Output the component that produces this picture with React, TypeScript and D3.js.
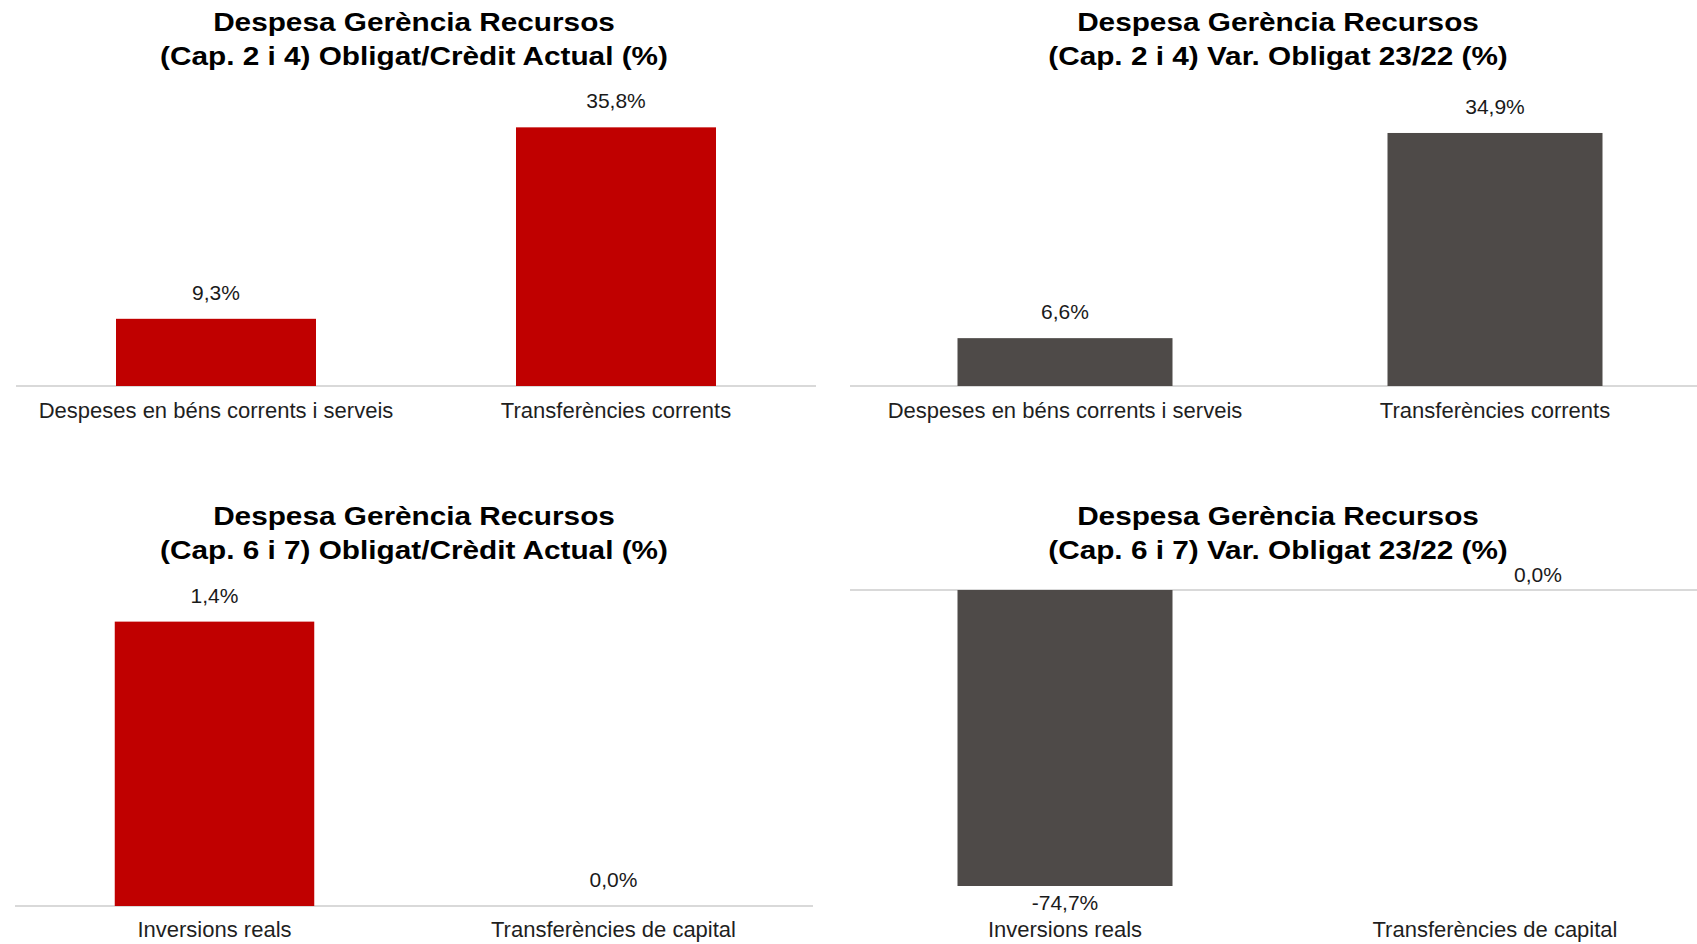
import React from 'react';
import * as d3 from 'd3';

const categoriesCap24 = ['Despeses en béns corrents i serveis', 'Transferències corrents'];
const categoriesCap67 = ['Inversions reals', 'Transferències de capital'];

const obligatCreditCap24 = [9.3, 35.8];
const varObligatCap24 = [6.6, 34.9];
const obligatCreditCap67 = [1.4, 0.0];
const varObligatCap67 = [-74.7, 0.0];

const titleLine1 = 'Despesa Gerència Recursos';
const titlesLine2 = [
  '(Cap. 2 i 4) Obligat/Crèdit Actual (%)',
  '(Cap. 2 i 4) Var. Obligat 23/22 (%)',
  '(Cap. 6 i 7) Obligat/Crèdit Actual (%)',
  '(Cap. 6 i 7) Var. Obligat 23/22 (%)',
];

const RED = '#C00000';
const GREY = '#4E4A48';
const FONT = '"Liberation Sans", Arial, Helvetica, sans-serif';

const W = 1697;
const H = 944;

interface PanelProps {
  title2: string;
  categories: string[];
  values: number[];
  color: string;
  xRange: [number, number];
  yDomain: [number, number];
  yRange: [number, number];
  titleX: number;
  titleY: number;
  catY: number;
  zeroLabel?: { dx: number; dy: number };
}

const fmt = (v: number) => v.toFixed(1).replace('.', ',') + '%';

const Panel: React.FC<PanelProps> = ({
  title2, categories, values, color, xRange, yDomain, yRange, titleX, titleY, catY, zeroLabel,
}) => {
  const x = d3.scaleBand<string>().domain(categories).range(xRange).paddingInner(0.5).paddingOuter(0.25);
  const y = d3.scaleLinear().domain(yDomain).range(yRange);
  const y0 = y(0);

  return (
    <g>
      {/* title glyphs are wider in the original, so stretch horizontally */}
      <g transform={`translate(${titleX},${titleY}) scale(1.19,1)`}>
        <text textAnchor="middle" fontSize={25} fontWeight="bold" fill="#000">
          {titleLine1}
        </text>
        <text y={34} textAnchor="middle" fontSize={25} fontWeight="bold" fill="#000">
          {title2}
        </text>
      </g>
      <line x1={xRange[0]} x2={xRange[1]} y1={y0} y2={y0} stroke="#D9D9D9" strokeWidth={2} />
      {values.map((v, i) => {
        const cx = x(categories[i])! + x.bandwidth() / 2;
        const top = Math.min(y(v), y0);
        const h = Math.abs(y(v) - y0);
        let lx = cx;
        let ly = v >= 0 ? y(v) - 19 : y(v) + 24;
        if (v === 0 && zeroLabel) {
          lx = cx + zeroLabel.dx;
          ly = y0 + zeroLabel.dy;
        }
        return (
          <g key={i}>
            {h > 0 && <rect x={x(categories[i])} y={top} width={x.bandwidth()} height={h} fill={color} />}
            <text x={lx} y={ly} textAnchor="middle" fontSize={21} fill="#1a1a1a">{fmt(v)}</text>
            <text x={cx} y={catY} textAnchor="middle" fontSize={22} fill="#1f1f1f">{categories[i]}</text>
          </g>
        );
      })}
    </g>
  );
};

export default function App() {
  return (
    <svg width={W} height={H} style={{ position: 'absolute', left: 0, top: 0, background: '#fff', fontFamily: FONT }}>
      <rect width={W} height={H} fill="#fff" />
      <Panel
        title2={titlesLine2[0]}
        categories={categoriesCap24}
        values={obligatCreditCap24}
        color={RED}
        xRange={[16, 816]}
        yDomain={[0, 40]}
        yRange={[386, 97]}
        titleX={414}
        titleY={31}
        catY={418}
      />
      <Panel
        title2={titlesLine2[1]}
        categories={categoriesCap24}
        values={varObligatCap24}
        color={GREY}
        xRange={[850, 1710]}
        yDomain={[0, 40]}
        yRange={[386, 96]}
        titleX={1278}
        titleY={31}
        catY={418}
      />
      <Panel
        title2={titlesLine2[2]}
        categories={categoriesCap67}
        values={obligatCreditCap67}
        color={RED}
        xRange={[15, 813]}
        yDomain={[0, 1.6]}
        yRange={[906, 581]}
        titleX={414}
        titleY={525}
        catY={937}
      />
      <Panel
        title2={titlesLine2[3]}
        categories={categoriesCap67}
        values={varObligatCap67}
        color={GREY}
        xRange={[850, 1710]}
        yDomain={[-80, 0]}
        yRange={[907, 590]}
        titleX={1278}
        titleY={525}
        catY={937}
        zeroLabel={{ dx: 43, dy: -8 }}
      />
    </svg>
  );
}
